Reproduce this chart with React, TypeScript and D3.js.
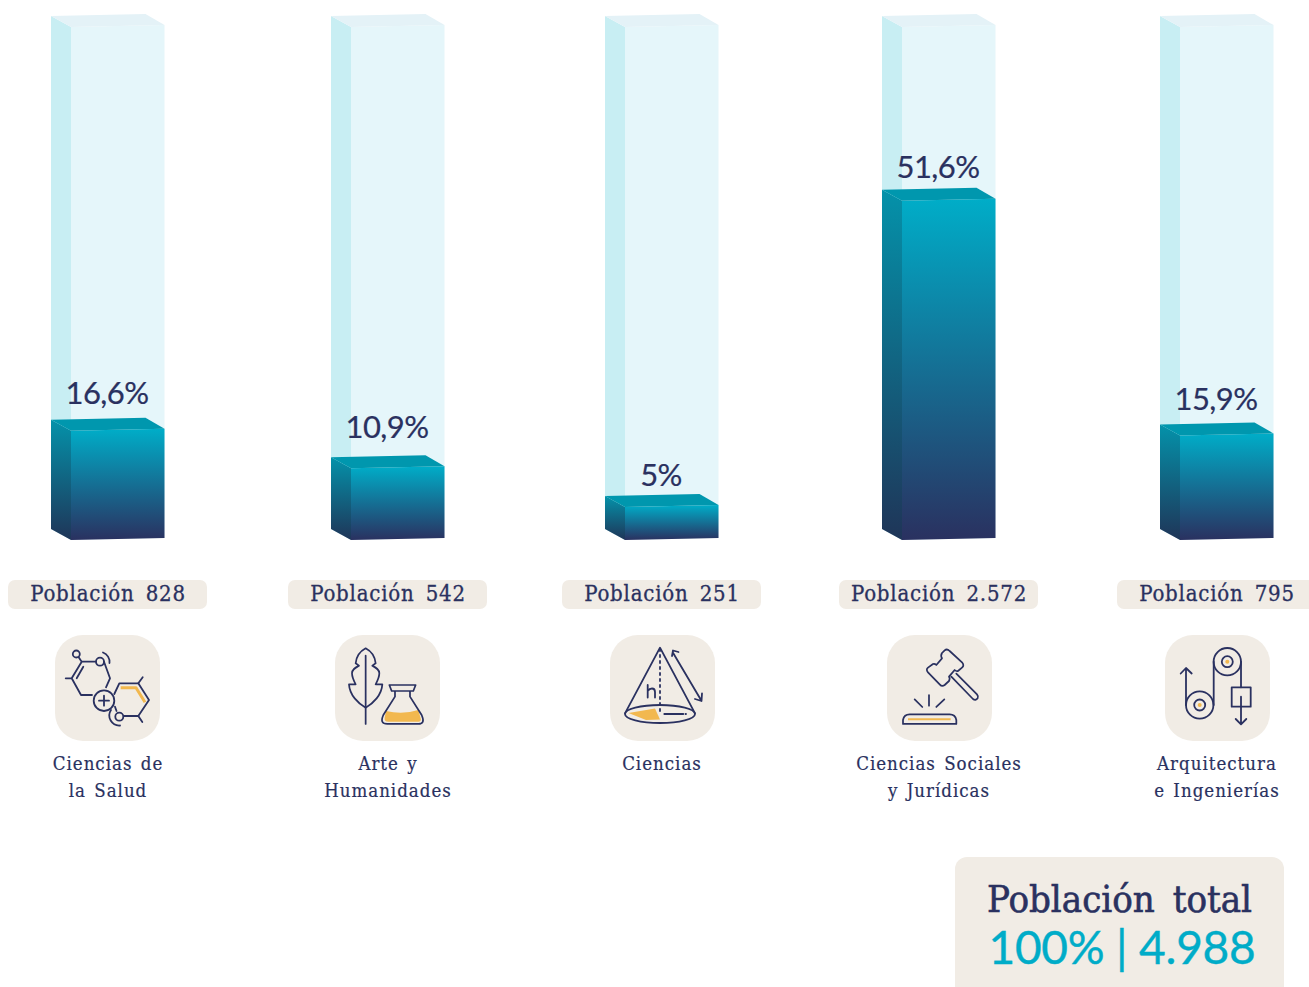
import React from "react";
import * as d3 from "d3";

// values
const categories = ["Ciencias de la Salud", "Arte y Humanidades", "Ciencias", "Ciencias Sociales y Jurídicas", "Arquitectura e Ingenierías"];
const shares = [16.6, 10.9, 5, 51.6, 15.9];
const shareLabels = ["16,6%", "10,9%", "5%", "51,6%", "15,9%"];
const populations = ["828", "542", "251", "2.572", "795"];
const labelLines = [["Ciencias de", "la Salud"], ["Arte y", "Humanidades"], ["Ciencias"], ["Ciencias Sociales", "y Jurídicas"], ["Arquitectura", "e Ingenierías"]];
const totalLabel = "Población total";
const totalValue = "100% | 4.988";

// layout
const columnLeft = [51, 331, 605, 882, 1160];
const tileLeft = [55, 335, 610, 887, 1165];
const labelLift = [26, 29, 20, 22, 24];
const maxShare = 78;
const depth = 20;
const faceW = 93.5;
const navy = "#2a3160";
const sand = "#f1ece5";
const amber = "#f2b84f";
const slab = "'DejaVu Serif Condensed', 'DejaVu Serif', serif";

const x = d3.scaleOrdinal<string, number>(categories, columnLeft);
const y = d3.scaleLinear().domain([0, maxShare]).range([539, 26]);

function poly(pts: [number, number][]) {
  return d3.line()(pts) + "Z";
}

function faces(left: number, top: number) {
  const bottom = y(0);
  const fl = left + depth;
  const fr = fl + faceW;
  return {
    front: poly([[fl, top + 1], [fr, top - 1], [fr, bottom - 1], [fl, bottom + 1]]),
    side: poly([[left, top - 10], [fl, top + 1], [fl, bottom + 1], [left, bottom - 10]]),
    cap: poly([[left, top - 10], [left + faceW + 1, top - 12], [fr, top - 1], [fl, top + 1]]),
  };
}

const line = { fill: "none", stroke: navy, strokeWidth: 1.8, strokeLinecap: "round", strokeLinejoin: "round" } as const;

function MoleculeIcon() {
  return (
    <g {...line}>
      <path d="M65.7 52.7H81L90 67.3" stroke={amber} strokeWidth={3} strokeLinecap="butt" />
      <circle cx={21.3} cy={19} r={3.5} />
      <path d="M23.5 22L26.7 26.7H41M49 26.7L55 43.3L51 52.3M37 60H26L16.7 43.3L26.7 26.7M10.7 43.3H16.7M28.3 31.7L21.7 43.3" />
      <circle cx={45} cy={26.7} r={4} />
      <path d="M48 17.5A10 10 0 0 1 54.5 28" />
      <circle cx={49} cy={65.7} r={10.3} />
      <path d="M44 65.7H54M49 60.7V70.7" />
      <path d="M59.3 59L64.3 48.3H83.3L94 65L83.3 81H69M60 71.7L61.5 76" />
      <circle cx={64.3} cy={81.7} r={4} />
      <path d="M56 75A10 10 0 0 0 65 90.5" />
      <path d="M83.3 48.3L87.7 42.3M83.3 81L87.3 87" />
    </g>
  );
}

function LeafFlaskIcon() {
  return (
    <g transform="translate(-55,-10) scale(0.3333)">
      <path d="M318 258Q368 270 415 255L422 280Q425 290 415 290H325Q312 290 314 278Z" fill={amber} />
      <g {...line} strokeWidth={5.2}>
        <path d="M257 92V297" />
        <path d="M257 70C272 78 285 95 287 115L277 122C288 128 298 133 298 145C298 155 294 165 287 178L307 178C305 210 280 235 257 248C234 235 209 210 207 178L227 178C220 165 216 155 216 145C216 133 226 128 237 122L227 115C229 95 242 78 257 70Z" />
        <path d="M328 180H407L400 198H335ZM345 198V215L310 270Q298 297 322 297H415Q437 297 425 270L390 215V198" />
      </g>
    </g>
  );
}

function ConeIcon() {
  return (
    <g>
      <path d="M18.5 78L45 73.5L50 84.5L36 85Z" fill={amber} />
      <g {...line}>
        <ellipse cx={50} cy={79} rx={35} ry={9} />
        <path d="M15 78.3L50 12.7L85 78.3" />
        <path d="M50 14V79" strokeDasharray="2 4" />
        <path d="M54.3 79H73.3M75.5 79H76" />
        <path d="M62.7 17.3L91 65M62 21L63 15.5L68.5 17M92 58.5L91.5 66L85 64" />
        <path d="M37.7 50V62.5M37.7 56Q39.5 53.5 42 53.5Q45 53.5 45 57V62.5" />
      </g>
    </g>
  );
}

function GavelIcon() {
  return (
    <g transform="translate(-9,-10) scale(0.3333)">
      <path d="M90 283H218" fill="none" stroke={amber} strokeWidth={6} />
      <g {...line} strokeWidth={5.2}>
        <path d="M200 76Q207 70 215 78L252 112Q260 122 252 128L240 138Q235 140 230 135L213 155Q217 160 213 168L200 180Q192 186 185 178L150 142Q143 134 150 128L165 117Q170 115 175 120L192 100Q187 92 192 84Z" />
        <path d="M220 155L285 222Q293 228 299 220Q302 214 297 208L235 146" />
        <path d="M75 297V285Q78 268 95 268H215Q232 268 235 285V297Z" />
        <path d="M110 223L133 246M153 210V242M175 246L199 223" />
      </g>
    </g>
  );
}

function PulleyIcon() {
  return (
    <g {...line}>
      <circle cx={62.3} cy={26.7} r={13.7} />
      <circle cx={62.3} cy={26.7} r={5.5} />
      <circle cx={62.3} cy={26.7} r={2} fill={amber} stroke="none" />
      <circle cx={34.7} cy={70} r={13.7} />
      <circle cx={34.7} cy={70} r={5.5} />
      <circle cx={34.7} cy={70} r={2} fill={amber} stroke="none" />
      <path d="M21 70V33.3M15.7 38.5L21 33L26.7 38.5" />
      <path d="M48.7 26.7V70M76 26.7V52.3" />
      <rect x={66.7} y={52.3} width={19} height={19.4} />
      <path d="M76 61.7V89M70.7 84L76 89.3L81.3 84" />
    </g>
  );
}

const icons = [MoleculeIcon, LeafFlaskIcon, ConeIcon, GavelIcon, PulleyIcon];

export default function App() {
  return (
    <svg width={1309} height={987} style={{ position: "absolute", left: 0, top: 0 }}>
      <defs>
        <linearGradient id="frontFill" x1="0" y1="0" x2="0" y2="1">
          <stop offset="0" stopColor="#00adc8" />
          <stop offset="1" stopColor="#2a3160" />
        </linearGradient>
        <linearGradient id="sideFill" x1="0" y1="0" x2="0" y2="1">
          <stop offset="0" stopColor="#0492aa" />
          <stop offset="1" stopColor="#1f3558" />
        </linearGradient>
      </defs>

      {categories.map((c, i) => {
        const left = x(c);
        const track = faces(left, y(maxShare));
        const bar = faces(left, y(shares[i]));
        const cx = left + 57;
        const Icon = icons[i];
        return (
          <g key={c}>
            <path d={track.side} fill="#c8eef3" />
            <path d={track.front} fill="#e5f6fa" />
            <path d={track.cap} fill="#e4f2f7" />
            <path d={bar.side} fill="url(#sideFill)" />
            <path d={bar.front} fill="url(#frontFill)" />
            <path d={bar.cap} fill="#0097ae" />
            <text x={cx - 1} y={y(shares[i]) - labelLift[i]} textAnchor="middle" fontFamily="Lato" fontSize={31} letterSpacing={-0.6} stroke={navy} strokeWidth={0.2} fill={navy}>
              {shareLabels[i]}
            </text>
            <rect x={cx - 100} y={580} width={199} height={29} rx={7} fill={sand} />
            <text x={cx} y={601} textAnchor="middle" fontFamily={slab} fontSize={22} letterSpacing={0.8} wordSpacing={4} stroke={navy} strokeWidth={0.3} fill={navy}>
              Población {populations[i]}
            </text>
            <g transform={`translate(${tileLeft[i]},635)`}>
              <rect width={105} height={106} rx={28} fill={sand} />
              <Icon />
            </g>
            {labelLines[i].map((t, j) => (
              <text key={t} x={cx} y={770 + j * 27} textAnchor="middle" fontFamily={slab} fontSize={18.5} letterSpacing={1} wordSpacing={2} stroke={navy} strokeWidth={0.2} fill={navy}>
                {t}
              </text>
            ))}
          </g>
        );
      })}

      <rect x={955} y={857} width={329} height={150} rx={12} fill={sand} />
      <text x={1119.5} y={912} textAnchor="middle" fontFamily={slab} fontSize={38} wordSpacing={7} stroke={navy} strokeWidth={0.6} fill={navy}>
        {totalLabel}
      </text>
      <text x={1122} y={964} textAnchor="middle" fontFamily="Lato" fontSize={46} letterSpacing={-0.2} stroke="#00acc8" strokeWidth={0.4} fill="#00acc8">
        {totalValue}
      </text>
    </svg>
  );
}
